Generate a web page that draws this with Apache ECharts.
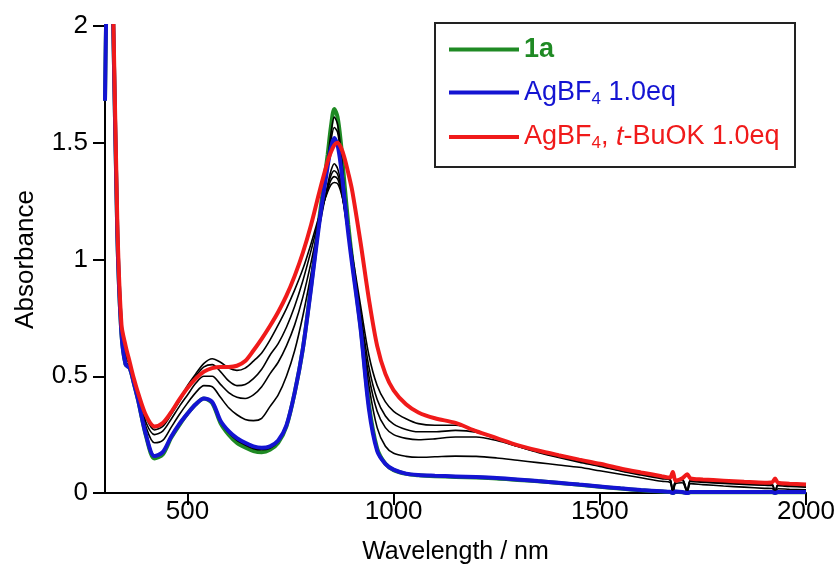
<!DOCTYPE html>
<html>
<head>
<meta charset="utf-8">
<script src="https://cdn.jsdelivr.net/npm/echarts@6/dist/echarts.min.js"></script>
<style>
html,body{margin:0;padding:0;background:#fff;}
#chart{width:840px;height:577px;}
</style>
</head>
<body>
<div id="chart"></div>
<script>
// Wavelength grid (nm)
const wavelengths = [300,310,320,330,340,350,360,370,380,
 400,420,440,460,480,500,520,540,560,580,
 600,620,640,660,680,700,720,740,760,780,
 800,820,840,848,856,864,872,880,890,900,
 920,940,960,980,1000,1030,1060,1100,
 1150,1200,1250,1300,1350,1400,1450,1500,1550,1600,1650,
 1670,1677,1684,1700,1712,1720,
 1750,1800,1850,1900,1918,1925,1932,1960,2000];

const xTickValues = [500, 1000, 1500, 2000];

// 1a (green)
const abs1a = [1.68,2.6,2.0,1.1,0.68,0.55,0.535,0.47,0.40,
 0.24,0.148,0.165,0.235,0.29,0.34,0.38,0.405,0.385,0.30,
 0.25,0.215,0.195,0.18,0.175,0.185,0.215,0.285,0.43,0.62,
 0.89,1.18,1.45,1.57,1.645,1.61,1.50,1.34,1.15,0.99,
 0.71,0.38,0.19,0.125,0.098,0.082,0.076,0.072,
 0.069,0.066,0.062,0.056,0.05,0.043,0.035,0.027,0.019,0.012,0.006,
 0.004,0.0,0.005,0.003,0.0,0.003,
 0.003,0.003,0.003,0.003,0.003,0.0,0.003,0.003,0.003];

// AgBF4 1.0eq (blue)
const absAg = [1.68,2.6,2.0,1.1,0.68,0.55,0.535,0.47,0.40,
 0.245,0.158,0.175,0.24,0.295,0.34,0.38,0.405,0.39,0.31,
 0.265,0.235,0.215,0.20,0.194,0.20,0.225,0.29,0.43,0.62,
 0.88,1.16,1.40,1.48,1.52,1.49,1.40,1.27,1.11,0.97,
 0.70,0.36,0.18,0.125,0.10,0.083,0.077,0.074,
 0.071,0.068,0.064,0.058,0.051,0.044,0.036,0.028,0.02,0.013,0.007,
 0.005,0.0,0.006,0.004,0.0,0.004,
 0.004,0.004,0.004,0.004,0.004,0.0,0.004,0.004,0.004];

// AgBF4, t-BuOK 1.0eq (red)
const absAgBase = [3.0,2.6,2.05,1.15,0.72,0.63,0.56,0.49,0.43,
 0.33,0.285,0.30,0.345,0.40,0.45,0.49,0.52,0.535,0.54,
 0.54,0.545,0.565,0.61,0.66,0.715,0.775,0.845,0.93,1.03,
 1.15,1.29,1.42,1.46,1.49,1.50,1.48,1.44,1.37,1.29,
 1.07,0.83,0.63,0.51,0.44,0.38,0.345,0.32,
 0.30,0.265,0.235,0.205,0.182,0.162,0.143,0.125,0.105,0.088,0.072,
 0.066,0.09,0.052,0.063,0.08,0.062,
 0.058,0.053,0.048,0.044,0.046,0.062,0.044,0.04,0.036];

// intermediate spectra (black)
const absStepA = [3.0,2.6,2.0,1.1,0.69,0.56,0.54,0.475,0.40,
 0.245,0.16,0.177,0.24,0.295,0.34,0.38,0.405,0.39,0.305,
 0.258,0.225,0.205,0.19,0.185,0.192,0.22,0.288,0.43,0.62,
 0.885,1.17,1.43,1.54,1.61,1.58,1.47,1.31,1.13,0.98,
 0.705,0.37,0.185,0.125,0.099,0.083,0.077,0.073,
 0.07,0.067,0.063,0.057,0.05,0.043,0.035,0.027,0.02,0.012,0.006,
 0.004,0.0,0.005,0.003,0.0,0.003,
 0.003,0.003,0.003,0.003,0.003,0.0,0.003,0.003,0.003];
const absStepB = [3.0,2.6,2.0,1.1,0.69,0.56,0.54,0.475,0.40,
 0.245,0.16,0.177,0.24,0.295,0.34,0.38,0.405,0.39,0.31,
 0.262,0.23,0.21,0.196,0.19,0.196,0.222,0.29,0.43,0.62,
 0.88,1.165,1.415,1.51,1.565,1.545,1.45,1.29,1.12,0.975,
 0.70,0.365,0.182,0.125,0.1,0.083,0.077,0.074,
 0.071,0.068,0.064,0.058,0.051,0.044,0.036,0.028,0.02,0.013,0.007,
 0.005,0.0,0.006,0.004,0.0,0.004,
 0.004,0.004,0.004,0.004,0.004,0.0,0.004,0.004,0.004];
const absStep1 = [3.0,2.6,2.02,1.12,0.70,0.59,0.545,0.48,0.415,
 0.28,0.215,0.225,0.28,0.335,0.385,0.43,0.46,0.455,0.41,
 0.365,0.335,0.315,0.31,0.32,0.37,0.42,0.50,0.61,0.76,
 0.94,1.14,1.32,1.38,1.41,1.39,1.33,1.23,1.10,0.97,
 0.72,0.46,0.28,0.20,0.17,0.157,0.153,0.155,
 0.158,0.157,0.15,0.14,0.13,0.12,0.11,0.095,0.08,0.065,0.05,
 0.046,0.0,0.04,0.044,0.004,0.04,
 0.036,0.03,0.025,0.02,0.019,0.0,0.018,0.016,0.014];
const absStep2 = [3.0,2.6,2.03,1.13,0.71,0.60,0.55,0.48,0.42,
 0.30,0.25,0.265,0.315,0.37,0.42,0.47,0.50,0.50,0.465,
 0.43,0.41,0.405,0.42,0.455,0.51,0.56,0.63,0.72,0.84,
 0.99,1.16,1.31,1.36,1.38,1.365,1.31,1.22,1.10,0.98,
 0.74,0.50,0.35,0.28,0.25,0.234,0.228,0.232,
 0.24,0.24,0.225,0.20,0.174,0.152,0.132,0.114,0.094,0.077,0.061,
 0.056,0.0,0.05,0.054,0.005,0.05,
 0.046,0.041,0.037,0.033,0.032,0.0,0.031,0.028,0.025];
const absStep3 = [3.0,2.6,2.04,1.14,0.715,0.61,0.555,0.49,0.43,
 0.32,0.27,0.285,0.335,0.39,0.45,0.50,0.54,0.55,0.52,
 0.48,0.46,0.465,0.49,0.53,0.59,0.64,0.71,0.80,0.91,
 1.04,1.18,1.30,1.34,1.355,1.345,1.30,1.23,1.12,1.00,
 0.77,0.54,0.40,0.33,0.295,0.272,0.262,0.262,
 0.268,0.26,0.232,0.20,0.176,0.155,0.135,0.117,0.097,0.08,0.064,
 0.058,0.0,0.052,0.057,0.006,0.053,
 0.049,0.044,0.04,0.036,0.035,0.0,0.034,0.031,0.028];
const absStep4 = [3.0,2.6,2.05,1.15,0.72,0.62,0.56,0.495,0.435,
 0.33,0.28,0.295,0.345,0.40,0.46,0.51,0.555,0.575,0.56,
 0.535,0.525,0.535,0.565,0.60,0.655,0.72,0.79,0.87,0.96,
 1.07,1.19,1.29,1.32,1.33,1.325,1.29,1.23,1.13,1.02,
 0.80,0.59,0.46,0.39,0.35,0.318,0.297,0.29,
 0.29,0.268,0.232,0.202,0.178,0.158,0.138,0.12,0.10,0.083,0.066,
 0.06,0.0,0.054,0.059,0.006,0.055,
 0.051,0.046,0.042,0.038,0.037,0.0,0.036,0.033,0.03];

const FONT = "'Liberation Sans', Arial, Helvetica, sans-serif";
const GREEN = '#1f8a24', BLUE = '#1414d2', RED = '#f01a1a';

function pairs(arr){ return wavelengths.map((w,i)=>[w, arr[i]]); }

function mkLine(name, arr, color, width){
  return {name, type:'line', data:pairs(arr), showSymbol:false, symbol:'none',
    smooth:0.3, clip:true, lineStyle:{color, width}, itemStyle:{color},
    emphasis:{disabled:true}, silent:true};
}

const series = [
  mkLine('1a', abs1a, GREEN, 4),
  mkLine('s1', absStepA, '#000', 1.6),
  mkLine('s2', absStepB, '#000', 1.6),
  mkLine('s3', absStep1, '#000', 1.6),
  mkLine('s4', absStep2, '#000', 1.6),
  mkLine('s5', absStep3, '#000', 1.6),
  mkLine('s6', absStep4, '#000', 1.6),
  mkLine('AgBF4 1.0eq', absAg, BLUE, 4),
  mkLine('AgBF4, t-BuOK 1.0eq', absAgBase, RED, 4)
];

const chart = echarts.init(document.getElementById('chart'), null, {renderer:'canvas'});
chart.setOption({
  animation:false,
  backgroundColor:'#fff',
  grid:{left:105, right:34, top:26, bottom:84},
  xAxis:{type:'value', min:300, max:2000,
    name:'Wavelength / nm', nameLocation:'middle', nameGap:47,
    nameTextStyle:{fontFamily:FONT, fontSize:25, color:'#000'},
    axisLine:{show:true, onZero:false, lineStyle:{color:'#000', width:2}},
    axisTick:{show:true, length:12, customValues:xTickValues, lineStyle:{color:'#000', width:2}},
    axisLabel:{customValues:xTickValues, margin:6, fontFamily:FONT, fontSize:26, color:'#000',
      formatter:function(v){ return String(v); }},
    splitLine:{show:false}},
  yAxis:{type:'value', min:0, max:2, interval:0.5,
    name:'Absorbance', nameLocation:'middle', nameGap:66,
    nameTextStyle:{fontFamily:FONT, fontSize:26, color:'#000'},
    axisLine:{show:true, lineStyle:{color:'#000', width:2}},
    axisTick:{show:true, length:12, lineStyle:{color:'#000', width:2}},
    axisLabel:{margin:17, fontFamily:FONT, fontSize:26, color:'#000'},
    splitLine:{show:false}},
  legend:{show:true, orient:'vertical', left:449, top:36, padding:0,
    itemWidth:70, itemHeight:4, itemGap:16, icon:'rect',
    selectedMode:false,
    data:['1a','AgBF4 1.0eq','AgBF4, t-BuOK 1.0eq'],
    formatter:function(n){
      if(n==='1a') return '{g|1a}';
      if(n==='AgBF4 1.0eq') return '{b|AgBF}{bs|4}{b| 1.0eq}';
      return '{r|AgBF}{rs|4}{r|, }{ri|t}{r|-BuOK 1.0eq}';
    },
    textStyle:{fontFamily:FONT, fontSize:27, rich:{
      g:{color:GREEN, fontWeight:'bold', fontSize:27, fontFamily:FONT, lineHeight:30},
      b:{color:BLUE, fontSize:27, fontFamily:FONT, lineHeight:30},
      bs:{color:BLUE, fontSize:17, fontFamily:FONT, lineHeight:12, verticalAlign:'bottom'},
      r:{color:RED, fontSize:27, fontFamily:FONT, lineHeight:30},
      rs:{color:RED, fontSize:17, fontFamily:FONT, lineHeight:12, verticalAlign:'bottom'},
      ri:{color:RED, fontSize:27, fontStyle:'italic', fontFamily:FONT, lineHeight:30}
    }}
  },
  graphic:[{type:'rect', shape:{x:435, y:23, width:360, height:144},
    style:{fill:'none', stroke:'#222', lineWidth:2}, z:-1}],
  series
});
</script>
</body>
</html>
